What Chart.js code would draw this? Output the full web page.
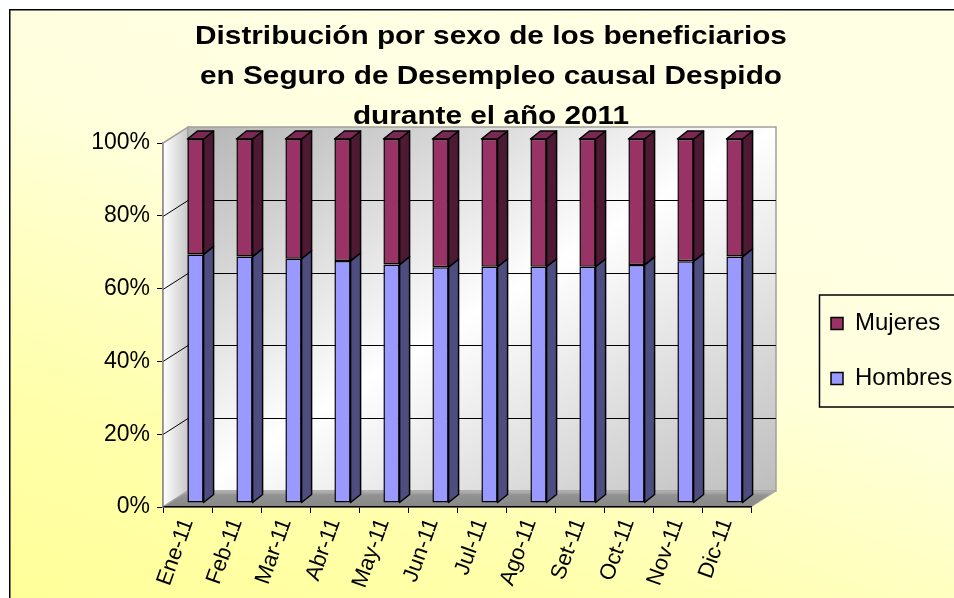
<!DOCTYPE html>
<html>
<head>
<meta charset="utf-8">
<script src="https://cdn.jsdelivr.net/npm/chart.js@4/dist/chart.umd.min.js"></script>
<style>
html,body{margin:0;padding:0;background:#fff;overflow:hidden}
canvas{display:block}
</style>
</head>
<body>
<canvas id="chart" width="972" height="598"></canvas>
<script>
const TITLE = ["Distribución por sexo de los beneficiarios", "en Seguro de Desempleo causal Despido", "durante el año 2011"];
const MONTHS = ["Ene-11", "Feb-11", "Mar-11", "Abr-11", "May-11", "Jun-11", "Jul-11", "Ago-11", "Set-11", "Oct-11", "Nov-11", "Dic-11"];
const HOMBRES = [68.3, 67.7, 67.1, 66.5, 65.5, 64.8, 64.9, 64.9, 64.9, 65.4, 66.4, 67.7];
const MUJERES = [31.7, 32.3, 32.9, 33.5, 34.5, 35.2, 35.1, 35.1, 35.1, 34.6, 33.6, 32.3];
const Y_TICKS = [0, 20, 40, 60, 80, 100];

const FONT = "'Liberation Sans', Arial, sans-serif";
const WALL = {dx: 25, dy: -16};      // depth of the 3d box
const SHIFT = {dx: 8, dy: -4};       // bars sit a bit behind the front plane
const BAR = {dx: 10, dy: -8};        // depth of each column
const SIDE = ["#4d4d80", "#4d1933"];
const TOP = "#7a2952";
const TITLE_STRETCH = 1.19;          // the original title glyphs are drawn wide

function poly(ctx, pts, fill, stroke, lw) {
  ctx.beginPath();
  pts.forEach((p, i) => i ? ctx.lineTo(p[0], p[1]) : ctx.moveTo(p[0], p[1]));
  ctx.closePath();
  ctx.fillStyle = fill;
  ctx.fill();
  if (stroke) { ctx.strokeStyle = stroke; ctx.lineWidth = lw; ctx.stroke(); }
}

const box3d = {
  id: "box3d",
  beforeDraw(chart) {
    const {ctx, width, height} = chart;
    ctx.save();
    ctx.fillStyle = "#fff";
    ctx.fillRect(0, 0, width, height);
    const g = ctx.createLinearGradient(0, height, 220, 0);
    g.addColorStop(0, "#ffff99");
    g.addColorStop(0.3, "#ffffaa");
    g.addColorStop(0.55, "#ffffc4");
    g.addColorStop(0.75, "#ffffdc");
    g.addColorStop(1, "#ffffe3");
    ctx.fillStyle = g;
    ctx.fillRect(9, 9, width - 9, height - 9);
    ctx.strokeStyle = "#000";
    ctx.lineWidth = 1.5;
    ctx.beginPath();
    ctx.moveTo(9.75, height); ctx.lineTo(9.75, 9.75); ctx.lineTo(width, 9.75);
    ctx.stroke();
    ctx.restore();
  },
  afterLayout(chart) {
    const t = chart.titleBlock;
    if (t && !t.wide) {
      const draw = t.draw.bind(t);
      t.draw = function(area) {
        const c = chart.ctx, cx = (t.left + t.right) / 2;
        c.save();
        c.translate(cx, 0);
        c.scale(TITLE_STRETCH, 1);
        c.translate(-cx, 0);
        draw(area);
        c.restore();
      };
      t.wide = true;
    }
    // park the legend beside the plot, centred on y = 351
    const lg = chart.legend;
    lg.left = 800; lg.right = chart.width;
    lg.top = 270; lg.bottom = 432;
    lg.width = lg.right - lg.left;
    lg.height = lg.bottom - lg.top;
  },
  beforeDatasetsDraw(chart) {
    const {ctx, chartArea: a, scales: {y}} = chart;
    const L = a.left, R = a.right, T = a.top, B = a.bottom, dx = WALL.dx, dy = WALL.dy;
    ctx.save();
    // side wall
    let g = ctx.createLinearGradient(L, 0, L + dx, 0);
    g.addColorStop(0, "#ffffff");
    g.addColorStop(1, "#c8c8c8");
    poly(ctx, [[L, T], [L + dx, T + dy], [L + dx, B + dy], [L, B]], g, "#a0a0a0", 1.5);
    // back wall, light band along the rising diagonal
    const cx = (L + R) / 2 + dx, cy = (T + B) / 2 + dy;
    const w = R - L, h = B - T, n = Math.hypot(w, h);
    const ux = h / n, uy = w / n, half = (w * ux + h * uy) / 2;
    g = ctx.createLinearGradient(cx - ux * half, cy - uy * half, cx + ux * half, cy + uy * half);
    g.addColorStop(0, "#b4b4b4");
    g.addColorStop(0.5, "#ffffff");
    g.addColorStop(1, "#bdbdbd");
    poly(ctx, [[L + dx, T + dy], [R + dx, T + dy], [R + dx, B + dy], [L + dx, B + dy]], g, "#a0a0a0", 1.5);
    // floor
    g = ctx.createLinearGradient(0, B + dy, 0, B);
    g.addColorStop(0, "#b8b8b8");
    g.addColorStop(0.25, "#929292");
    g.addColorStop(1, "#878787");
    poly(ctx, [[L, B], [R, B], [R + dx, B + dy], [L + dx, B + dy]], g, "#a8a8a8", 1);
    // grid lines on the walls
    ctx.strokeStyle = "#000";
    ctx.lineWidth = 1;
    Y_TICKS.slice(1, -1).forEach(v => {
      const py = Math.round(y.getPixelForValue(v)) + 0.5;
      ctx.beginPath();
      ctx.moveTo(L, py); ctx.lineTo(L + dx, py + dy); ctx.lineTo(R + dx, py + dy);
      ctx.stroke();
    });
    ctx.restore();

    // columns: side and top faces, front faces come from Chart.js
    ctx.save();
    ctx.translate(SHIFT.dx, SHIFT.dy);
    ctx.lineJoin = "round";
    const last = chart.data.datasets.length - 1;
    chart.data.datasets.forEach((ds, i) => {
      chart.getDatasetMeta(i).data.forEach(bar => {
        const {x, y: top, base, width} = bar.getProps(["x", "y", "base", "width"], true);
        const l = x - width / 2, r = x + width / 2;
        poly(ctx, [[r, top], [r + BAR.dx, top + BAR.dy], [r + BAR.dx, base + BAR.dy], [r, base]], SIDE[i], "#000", 1.5);
        if (i === last) poly(ctx, [[l, top], [l + BAR.dx, top + BAR.dy], [r + BAR.dx, top + BAR.dy], [r, top]], TOP, "#000", 1.5);
      });
    });
  },
  afterDatasetsDraw(chart) {
    chart.ctx.restore();
  },
  afterDraw(chart) {
    const {ctx, legend: lg} = chart;
    const mid = (lg.top + lg.bottom) / 2;
    ctx.save();
    ctx.strokeStyle = "#000";
    ctx.lineWidth = 1.5;
    ctx.strokeRect(lg.left + 19.5, mid - 56, 300, 112);
    ctx.restore();
  }
};

new Chart(document.getElementById("chart"), {
  type: "bar",
  data: {
    labels: MONTHS,
    datasets: [
      {label: "Hombres", data: HOMBRES, backgroundColor: "#9999ff", borderColor: "#000", borderWidth: 1.5, borderSkipped: false, clip: false},
      {label: "Mujeres", data: MUJERES, backgroundColor: "#993366", borderColor: "#000", borderWidth: 1.5, borderSkipped: false, clip: false}
    ]
  },
  options: {
    responsive: false,
    animation: false,
    devicePixelRatio: 1,
    layout: {padding: {left: 10, top: 10, right: 0, bottom: 0}},
    datasets: {bar: {categoryPercentage: 1, barPercentage: 0.33}},
    plugins: {
      title: {
        display: true, text: TITLE, color: "#000",
        font: {family: FONT, size: 25, weight: "bold", lineHeight: 1.6},
        padding: {top: 7, bottom: 6}
      },
      legend: {
        position: "right", reverse: true, maxWidth: 150,
        labels: {color: "#000", font: {family: FONT, size: 24}, boxWidth: 12, boxHeight: 12, padding: 31}
      },
      tooltip: {enabled: false}
    },
    scales: {
      x: {
        stacked: true,
        grid: {drawOnChartArea: false, tickLength: 6, color: "#000", z: 1},
        border: {color: "#000", width: 1.5, z: 1},
        ticks: {color: "#000", font: {family: FONT, size: 22}, minRotation: 70, maxRotation: 70, autoSkip: false, padding: 2},
        afterFit(s) { s.height = 598 - 507; }
      },
      y: {
        stacked: true, min: 0, max: 100,
        grid: {drawOnChartArea: false, tickLength: 6, color: "#000", z: 1},
        border: {color: "#909090", width: 1.5, z: 1},
        ticks: {stepSize: 20, color: "#000", font: {family: FONT, size: 23}, padding: 7, callback: v => v + "%"},
        afterFit(s) { s.width = 153; }
      },
      pad: {
        axis: "y", type: "linear", position: "right", display: true,
        grid: {display: false}, border: {display: false}, ticks: {display: false},
        afterFit(s) { s.width = 71; }
      }
    }
  },
  plugins: [box3d]
});
</script>
</body>
</html>
